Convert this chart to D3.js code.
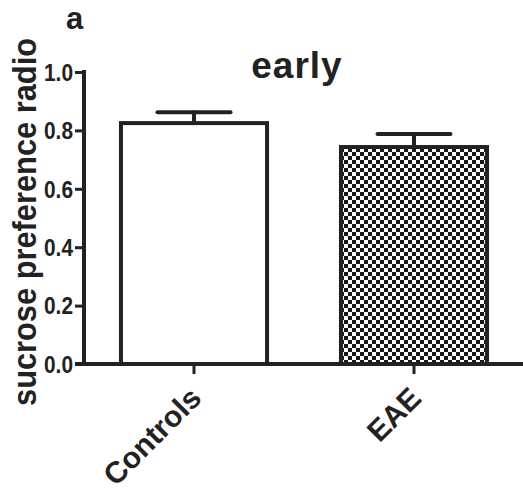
<!DOCTYPE html>
<html>
<head>
<meta charset="utf-8">
<script src="https://cdn.jsdelivr.net/npm/d3@7"></script>
<style>
  body { margin: 0; background: #fff; }
  text { font-family: "Liberation Sans", Arial, sans-serif; font-weight: bold; fill: #222; }
</style>
</head>
<body>
<div id="chart"></div>
<script>
// data
var groups = ["Controls", "EAE"];
var means = [0.825, 0.743];
var errors = [0.037, 0.045];
var yTicks = [0.0, 0.2, 0.4, 0.6, 0.8, 1.0];

var W = 523, H = 493;
var svg = d3.select("#chart").append("svg")
  .attr("width", W)
  .attr("height", H);

// checkerboard fill for EAE
var defs = svg.append("defs");
var pat = defs.append("pattern")
  .attr("id", "checker")
  .attr("patternUnits", "userSpaceOnUse")
  .attr("width", 8).attr("height", 8)
  .attr("x", 0).attr("y", 0);
pat.append("rect").attr("width", 8).attr("height", 8).attr("fill", "#fff");
pat.append("rect").attr("width", 4).attr("height", 4).attr("fill", "#1a1a1a");
pat.append("rect").attr("x", 4).attr("y", 4).attr("width", 4).attr("height", 4).attr("fill", "#1a1a1a");

var x = d3.scaleBand()
  .domain(groups)
  .range([84, 524])
  .paddingInner(0.336)
  .paddingOuter(0.168);

var y = d3.scaleLinear()
  .domain([0, 1.0])
  .range([364, 72]);

var ink = "#222";

// bars
svg.append("g")
  .selectAll("rect")
  .data(groups)
  .enter()
  .append("rect")
    .attr("x", function(d) { return x(d); })
    .attr("y", function(d, i) { return y(means[i]); })
    .attr("width", x.bandwidth())
    .attr("height", function(d, i) { return y(0) - y(means[i]); })
    .attr("fill", function(d, i) { return i === 1 ? "url(#checker)" : "#fff"; })
    .attr("stroke", ink)
    .attr("stroke-width", 4);

// error bars
var eb = svg.append("g").attr("stroke", ink).attr("stroke-width", 4).attr("stroke-linecap", "round");
groups.forEach(function(g, i) {
  var cx = x(g) + x.bandwidth() / 2;
  eb.append("line")
    .attr("x1", cx).attr("x2", cx)
    .attr("y1", y(means[i]))
    .attr("y2", y(means[i] + errors[i]));
  eb.append("line")
    .attr("x1", cx - x.bandwidth() / 4).attr("x2", cx + x.bandwidth() / 4)
    .attr("y1", y(means[i] + errors[i]))
    .attr("y2", y(means[i] + errors[i]));
});

// Y axis
var yAxis = svg.append("g")
  .attr("transform", "translate(84,0)")
  .call(d3.axisLeft(y).tickValues(yTicks).tickFormat(d3.format(".1f")).tickSize(9).tickSizeOuter(0));
yAxis.select(".domain").attr("stroke", ink).attr("stroke-width", 4)
  .attr("d", "M0," + (y(1.0) - 2) + "V" + (y(0) + 2));
yAxis.selectAll(".tick line").attr("stroke", ink).attr("stroke-width", 3);
yAxis.selectAll(".tick text")
  .attr("x", -11)
  .attr("dy", "0.36em")
  .style("font-size", "23px")
  .style("font-family", "'Liberation Sans', Arial, sans-serif")
  .style("font-weight", "bold")
  .attr("textLength", 29)
  .attr("lengthAdjust", "spacingAndGlyphs")
  .attr("fill", ink);

// X axis
var xAxis = svg.append("g")
  .attr("transform", "translate(0," + y(0) + ")")
  .call(d3.axisBottom(x).tickSize(10).tickSizeOuter(0));
xAxis.select(".domain").attr("stroke", ink).attr("stroke-width", 4)
  .attr("d", "M75,0H523");
xAxis.selectAll(".tick line").attr("stroke", ink).attr("stroke-width", 3);
xAxis.selectAll(".tick text")
  .attr("text-anchor", "end")
  .attr("transform", "translate(9,36) rotate(-45)")
  .attr("y", 0)
  .attr("dy", 0)
  .style("font-size", "30px")
  .style("font-family", "'Liberation Sans', Arial, sans-serif")
  .style("font-weight", "bold")
  .attr("fill", ink);

// Y label
svg.append("text")
  .attr("text-anchor", "middle")
  .attr("transform", "translate(36,222) rotate(-90)")
  .style("font-size", "34px")
  .attr("textLength", 368)
  .attr("lengthAdjust", "spacingAndGlyphs")
  .text("sucrose preference radio");

// title
svg.append("text")
  .attr("text-anchor", "middle")
  .attr("x", 297)
  .attr("y", 78)
  .style("font-size", "37px")
  .style("letter-spacing", "1px")
  .text("early");

// panel letter
svg.append("text")
  .attr("x", 66)
  .attr("y", 29)
  .style("font-size", "31px")
  .text("a");
</script>
</body>
</html>
